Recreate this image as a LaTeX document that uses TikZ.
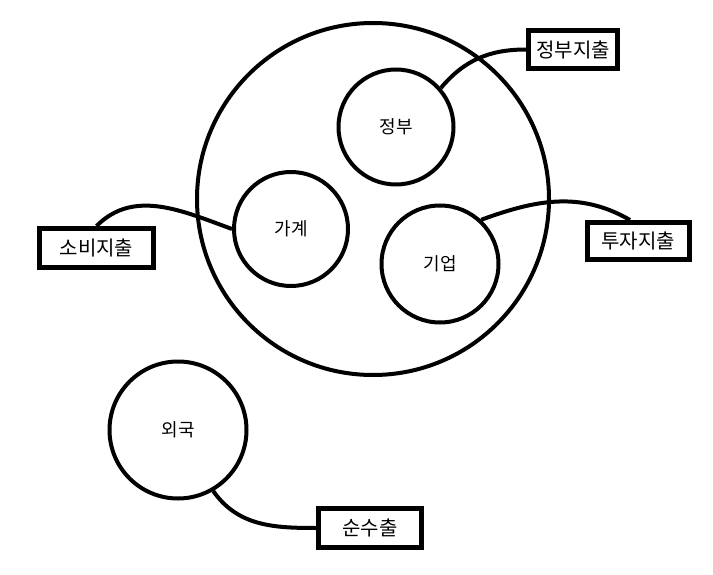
\documentclass[tikz,border=0pt]{standalone}
\usepackage{fontspec}
\setmainfont{Noto Sans CJK KR}
\usepackage{tikz}
\usetikzlibrary{positioning}
\definecolor{linec}{HTML}{000000}
\tikzset{
  sector/.style={circle,draw=linec,line width=4pt,inner sep=0pt,font=\fontsize{18}{20}\selectfont},
  flow/.style={rectangle,draw=linec,line width=5pt,fill=white,inner sep=0pt,font=\fontsize{20}{22}\selectfont},
  link/.style={draw=linec,line width=4pt},
}

\begin{document}
\begin{tikzpicture}[x=1pt,y=1pt]
  \useasboundingbox (0,0) rectangle (713,-575);
  % the economy and its sectors
  \node[sector,minimum size=352pt] (econ) at (373,-199) {};
  \node[sector,minimum size=115pt] (gov) at (396,-127) {정부};
  \node[sector,minimum size=114pt] (hh) at (291,-229) {가계};
  \node[sector,minimum size=117pt] (firm) at (440,-264) {기업};
  \node[sector,minimum size=137pt] (abroad) at (178,-430) {외국};
  % spending boxes
  \node[flow,minimum width=89pt,minimum height=38pt] (govx) at (573,-49.5) {정부지출};
  \node[flow,minimum width=114pt,minimum height=39pt] (cons) at (96.5,-248) {소비지출};
  \node[flow,minimum width=102pt,minimum height=37pt] (inv) at (638,-241) {투자지출};
  \node[flow,minimum width=103pt,minimum height=39pt] (netx) at (370,-528) {순수출};
  % links
  \draw[link] (gov.41) to[out=50,in=180] (govx.west);
  \draw[link] (cons.north) to[out=45,in=160] (hh.west);
  \draw[link] (firm.47) to[out=20,in=150] ([xshift=-8pt]inv.north);
  \draw[link] (abroad.-60) to[out=-55,in=180] (netx.west);
\end{tikzpicture}
\end{document}
